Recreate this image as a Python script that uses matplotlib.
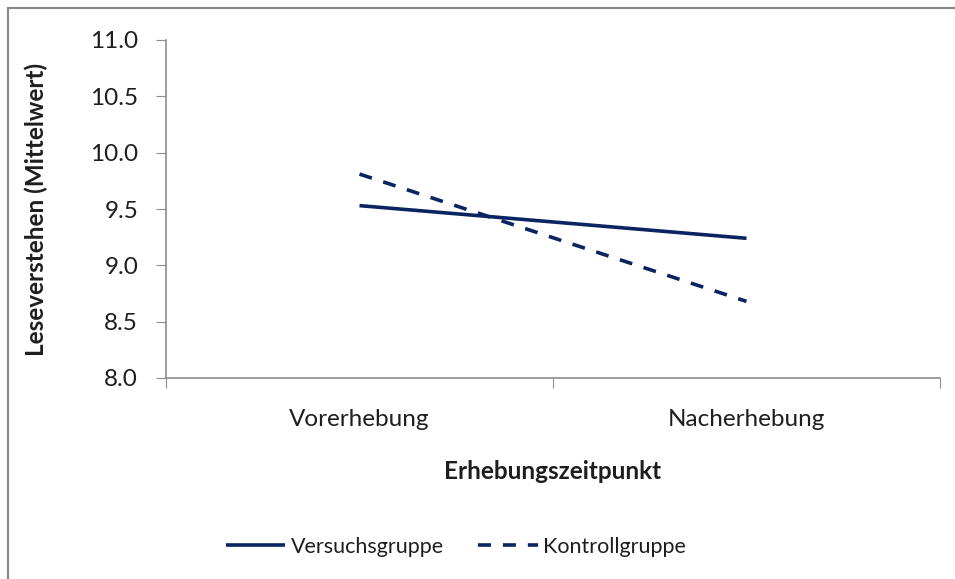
import matplotlib
matplotlib.use("Agg")
import matplotlib.pyplot as plt
from matplotlib.patches import Rectangle

categories = ["Vorerhebung", "Nacherhebung"]
versuchsgruppe = [9.53, 9.24]
kontrollgruppe = [9.81, 8.68]
y_ticks = [8.0, 8.5, 9.0, 9.5, 10.0, 10.5, 11.0]

plt.rcParams['font.family'] = ['Lato', 'DejaVu Sans']
navy = '#0A2461'
grey = '#8C8C8C'
txt = '#1E1E1E'
fs = 17.5

fig = plt.figure(figsize=(9.55, 5.79), dpi=100)
ax = fig.add_axes([166/955, 1-378/579, (940-166)/955, (378-40)/579])

x = list(range(len(categories)))
ax.plot(x, versuchsgruppe, color=navy, lw=2.6, solid_capstyle='butt', label='Versuchsgruppe')
ax.plot(x, kontrollgruppe, color=navy, lw=2.6, dashes=(3.6, 3.3), dash_capstyle='butt', label='Kontrollgruppe')

ax.set_xlim(-0.5, len(categories) - 0.5)
ax.set_ylim(8.0, 11.0)
ax.set_yticks(y_ticks)
ax.set_yticklabels([f"{v:.1f}" for v in y_ticks], fontsize=fs, color=txt)
ax.set_xticks([-0.5, 0.5, 1.5])
ax.set_xticklabels([])
ax.set_xticks(x, minor=True)
ax.set_xticklabels(categories, minor=True, fontsize=fs, color=txt)
ax.tick_params(axis='x', which='minor', length=0, pad=22)
ax.tick_params(axis='x', which='major', length=7, color=grey, direction='out')
ax.tick_params(axis='y', length=7, color=grey, direction='out', pad=13)

for s in ['top', 'right']:
    ax.spines[s].set_visible(False)
for s in ['left', 'bottom']:
    ax.spines[s].set_color(grey)
    ax.spines[s].set_linewidth(1.2)

ax.set_xlabel('Erhebungszeitpunkt', fontsize=fs, fontweight='bold', color=txt)
ax.xaxis.set_label_coords(0.5, (378-460)/338)
ax.set_ylabel('Leseverstehen (Mittelwert)', fontsize=fs, fontweight='bold', color=txt)
ax.yaxis.set_label_coords((48-166)/774, 0.5)

leg = fig.legend(loc='center', bbox_to_anchor=(456/955, 1-547/579), ncol=2, frameon=False,
                 fontsize=15.5, handlelength=2.75, handletextpad=0.25, columnspacing=1.6,
                 borderaxespad=0, borderpad=0)
for t in leg.get_texts():
    t.set_color(txt)

fig.patches.append(Rectangle((8/955, -0.1), 1.2, 1 - 8/579 + 0.1, transform=fig.transFigure,
                             fill=False, edgecolor='#888888', lw=1.5))

fig.savefig('out.png', dpi=100)
